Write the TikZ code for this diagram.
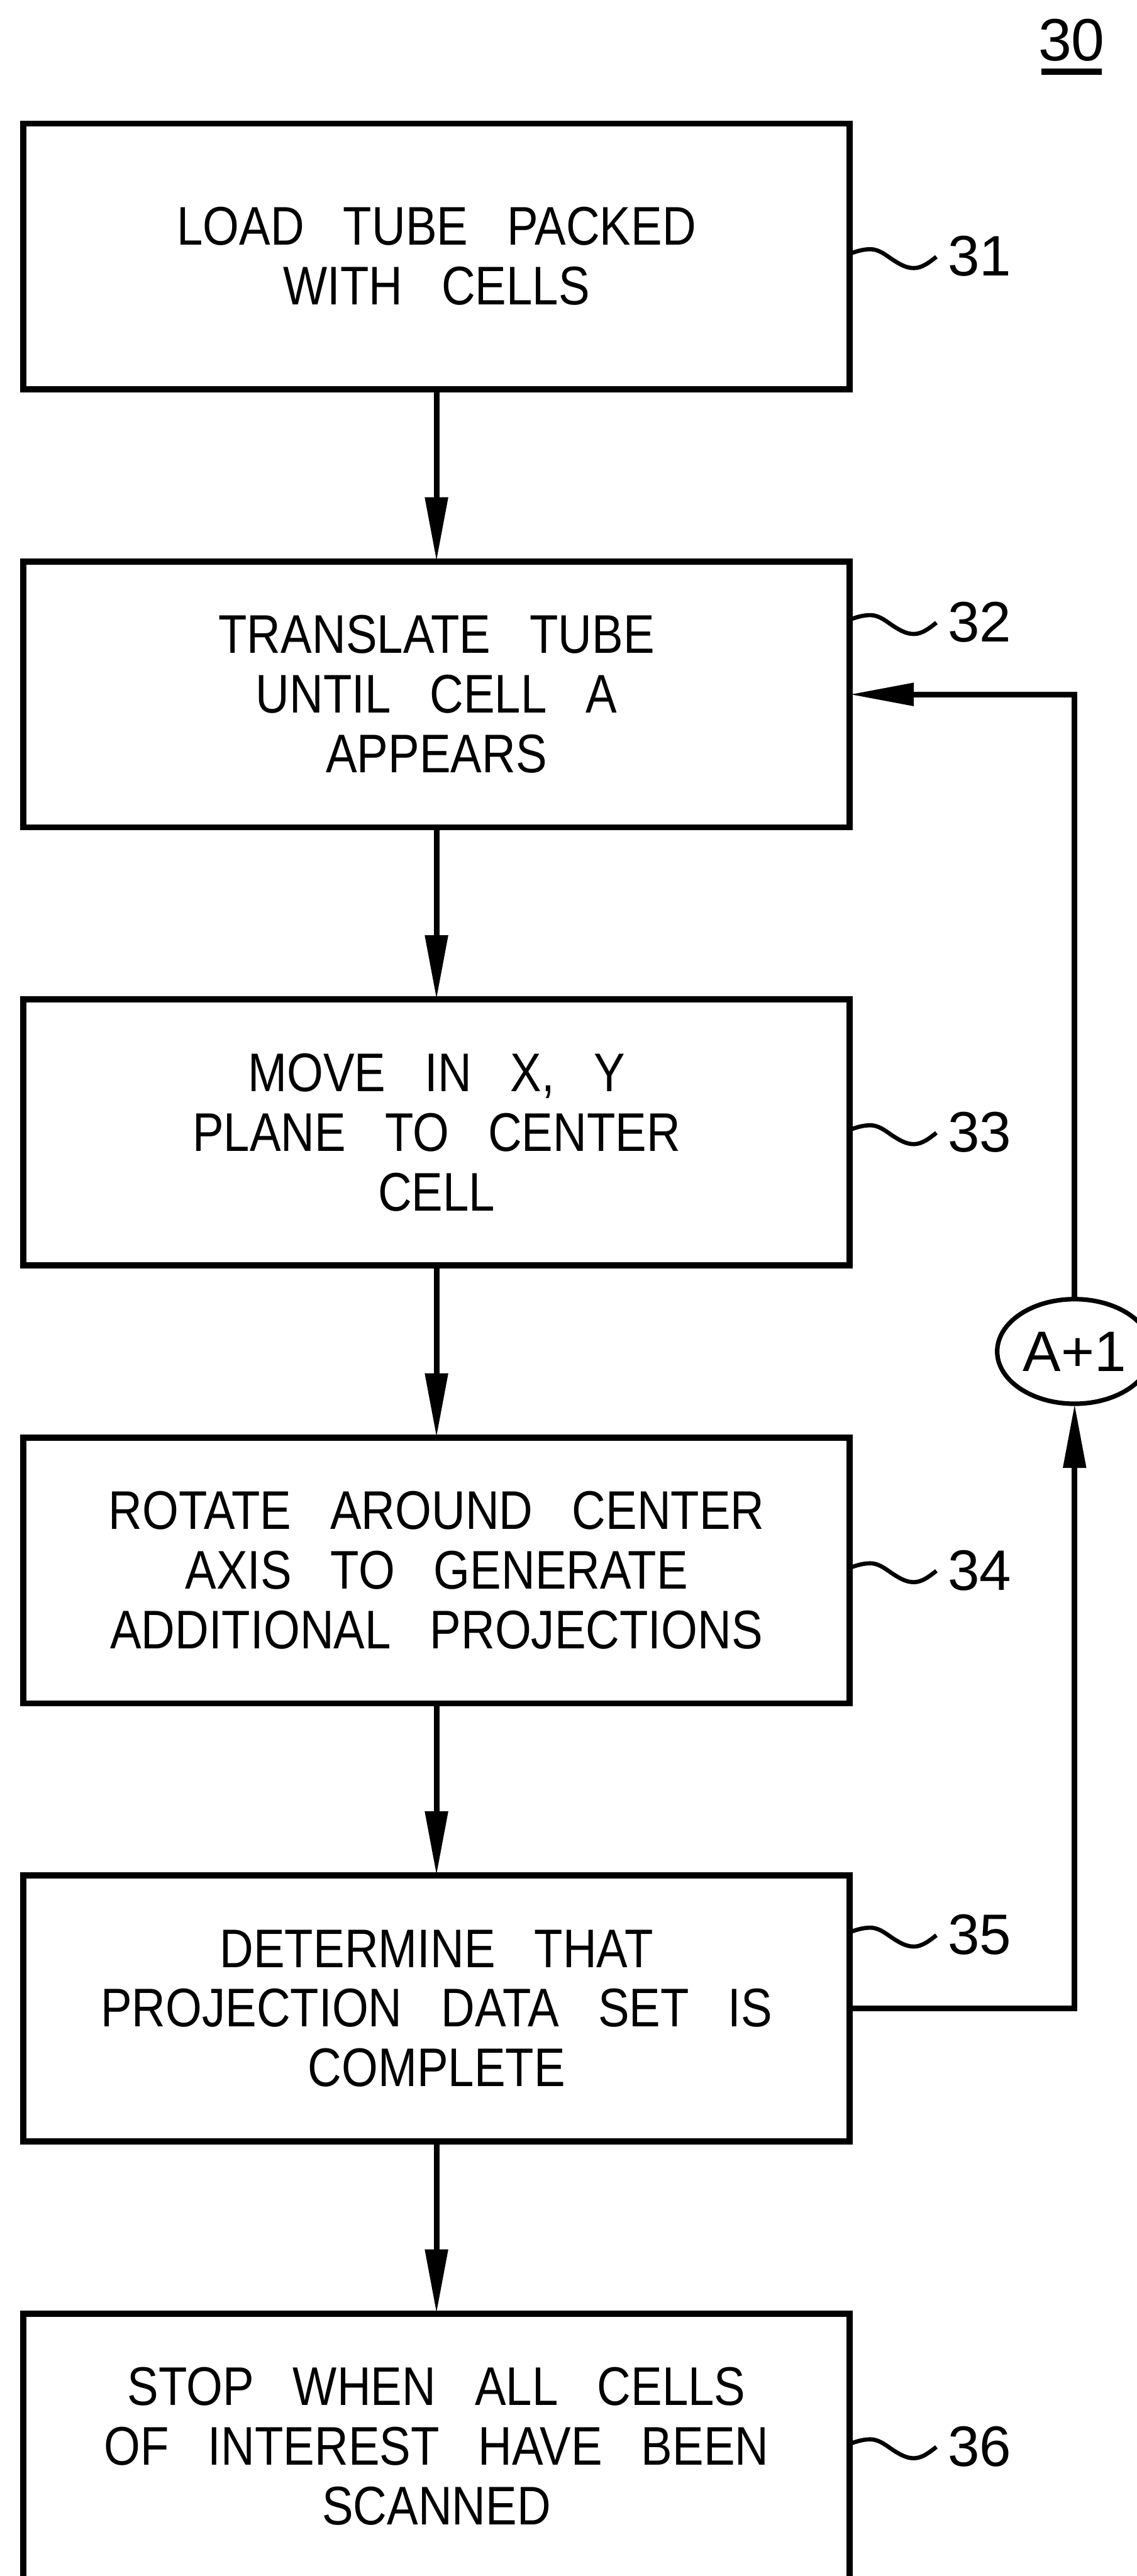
\documentclass[tikz,border=0pt]{standalone}
\usepackage{fontspec}
\setmainfont{Liberation Sans}[FakeStretch=0.86,WordSpace=3]
\newfontfamily\numfont{Liberation Sans}
\usetikzlibrary{arrows.meta,positioning,shapes.geometric}

\begin{document}
\begin{tikzpicture}[
  node distance=4.56cm,
  block/.style={draw,line width=0.16cm,minimum width=21.88cm,minimum height=7.04cm,
    inner sep=0pt,outer sep=0pt,align=center,font=\fontsize{41}{45}\selectfont},
  refnum/.style={inner sep=0pt,font=\numfont\fontsize{43}{43}\selectfont},
  squig/.style={line width=0.11cm},
  arrow/.style={-{Triangle[length=1.7cm,width=0.58cm]},line width=0.15cm}
]
\useasboundingbox (0,0) rectangle (30.11,-68.22);
\clip (0,0) rectangle (30.11,-68.22);
\node[block] (load) at (11.56,-6.79) {LOAD TUBE PACKED\\WITH CELLS};
\node[block,below=of load] (translate) {TRANSLATE TUBE\\UNTIL CELL A\\APPEARS};
\node[block,below=of translate] (move) {MOVE IN X, Y\\PLANE TO CENTER\\CELL};
\node[block,below=of move] (rotate) {ROTATE AROUND CENTER\\AXIS TO GENERATE\\ADDITIONAL PROJECTIONS};
\node[block,below=of rotate] (complete) {DETERMINE THAT\\PROJECTION DATA SET IS\\COMPLETE};
\node[block,below=of complete] (stop) {STOP WHEN ALL CELLS\\OF INTEREST HAVE BEEN\\SCANNED};
\node[draw,ellipse,line width=0.12cm,minimum width=4.1cm,minimum height=2.77cm,inner sep=0pt,
  outer sep=0pt,font=\numfont\fontsize{43}{43}\selectfont] (incr) at (28.46,-35.79) {A+1};
\node[inner sep=0pt,font=\numfont\fontsize{45}{45}\selectfont] (fig) at (28.38,-1.065) {30};
\draw[line width=0.16cm,shorten <=0.08cm,shorten >=0.08cm]
  ([yshift=-0.27cm]fig.south west) -- ([yshift=-0.27cm]fig.south east);
% reference numerals
\node[refnum,right=2.6cm of load] (n31) {31};
\node[refnum,right=2.6cm of translate,yshift=1.91cm] (n32) {32};
\node[refnum,right=2.6cm of move] (n33) {33};
\node[refnum,right=2.6cm of rotate] (n34) {34};
\node[refnum,right=2.6cm of complete,yshift=1.95cm] (n35) {35};
\node[refnum,right=2.6cm of stop] (n36) {36};
\draw[squig] (load.east |- n31.west) ++(0,0.07) sin ++(0.55,0.12) cos ++(0.55,-0.25) sin ++(0.6,-0.25) cos ++(0.6,0.3);
\draw[squig] (translate.east |- n32.west) ++(0,0.07) sin ++(0.55,0.12) cos ++(0.55,-0.25) sin ++(0.6,-0.25) cos ++(0.6,0.3);
\draw[squig] (move.east |- n33.west) ++(0,0.07) sin ++(0.55,0.12) cos ++(0.55,-0.25) sin ++(0.6,-0.25) cos ++(0.6,0.3);
\draw[squig] (rotate.east |- n34.west) ++(0,0.07) sin ++(0.55,0.12) cos ++(0.55,-0.25) sin ++(0.6,-0.25) cos ++(0.6,0.3);
\draw[squig] (complete.east |- n35.west) ++(0,0.07) sin ++(0.55,0.12) cos ++(0.55,-0.25) sin ++(0.6,-0.25) cos ++(0.6,0.3);
\draw[squig] (stop.east |- n36.west) ++(0,0.07) sin ++(0.55,0.12) cos ++(0.55,-0.25) sin ++(0.6,-0.25) cos ++(0.6,0.3);
% flow
\draw[arrow] (load) -- (translate);
\draw[arrow] (translate) -- (move);
\draw[arrow] (move) -- (rotate);
\draw[arrow] (rotate) -- (complete);
\draw[arrow] (complete) -- (stop);
\draw[arrow] (complete.east) -| (incr.south);
\draw[arrow] (incr.north) |- (translate.east);
\end{tikzpicture}
\end{document}
